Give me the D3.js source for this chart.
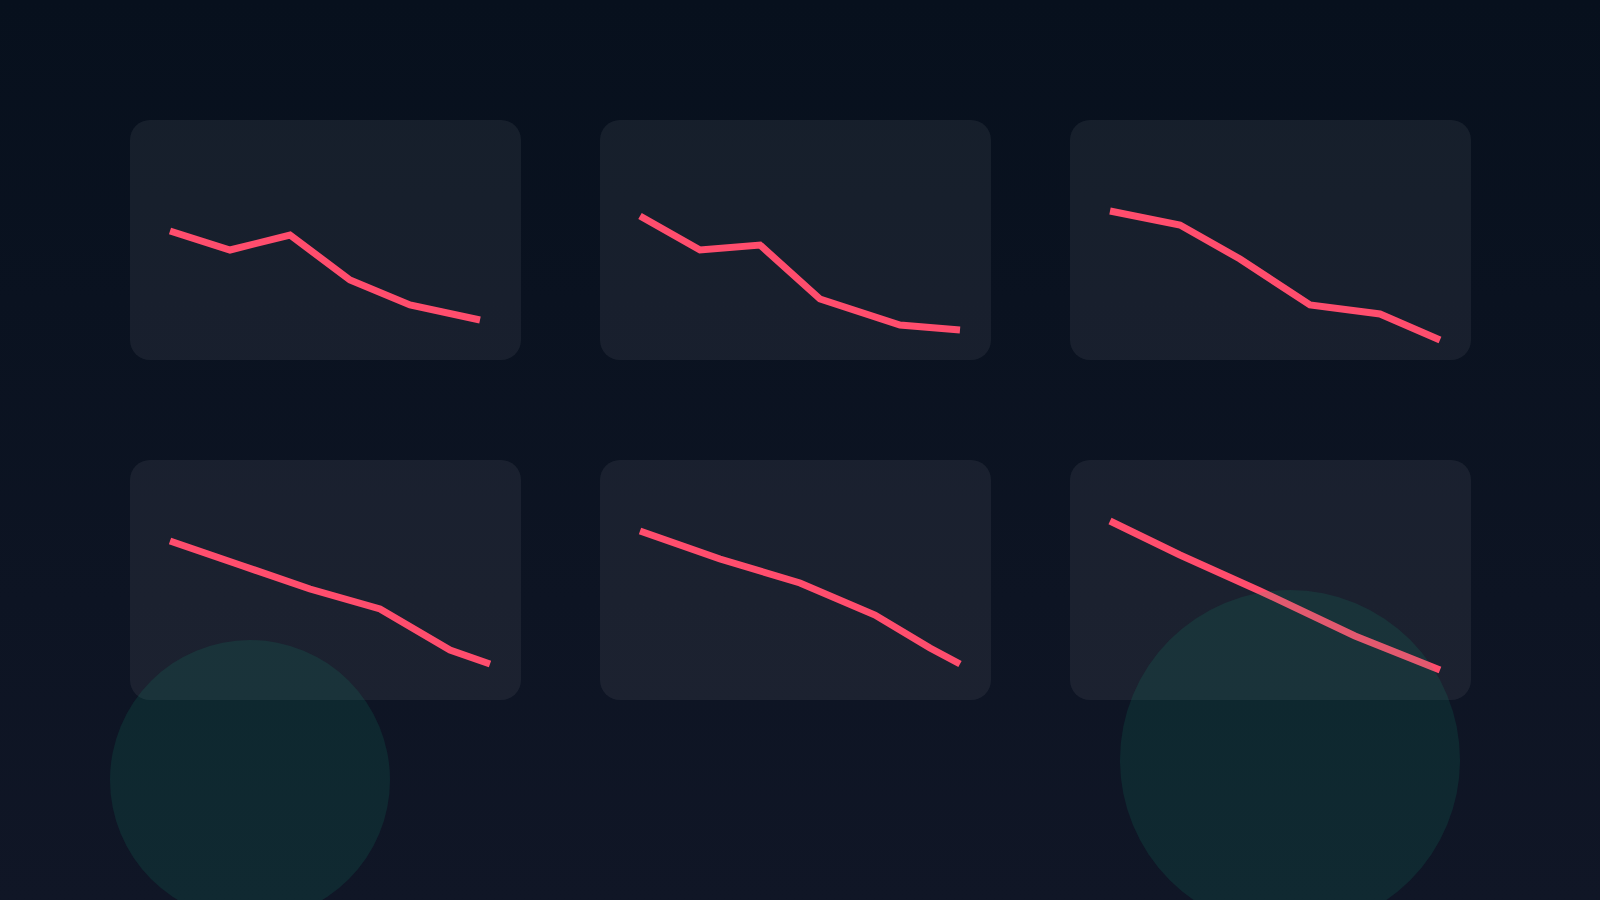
<!DOCTYPE html>
<html>
<head>
<meta charset="utf-8">
<script src="https://cdn.jsdelivr.net/npm/d3@7"></script>
<style>
  html, body { margin: 0; padding: 0; background: #0b1220; }
  svg { display: block; }
</style>
</head>
<body>
<div id="chart"></div>
<script>
// Six small sparkline panels, x in shared units, y in 0-100
const seriesX = [
  [0, 6, 12, 18, 24, 31],
  [0, 6, 12, 18, 26, 32],
  [0, 7, 13, 20, 27, 33],
  [0, 7, 14, 21, 28, 32],
  [0, 8, 16, 23.5, 29, 32],
  [0, 7, 15, 24.5, 33]
];
const seriesY = [
  [54.5, 45, 52.5, 30, 17.5, 10],
  [62, 45, 47.5, 20.5, 7.5, 5],
  [64.5, 57.5, 40.5, 17.5, 13, 0],
  [69.5, 57.5, 45.5, 35.5, 15, 8],
  [74.5, 60.5, 48.5, 32.5, 16, 8],
  [79.5, 62.5, 44.5, 22, 5]
];
// decorative glow circles: centre and radius in page units
const blobX = [250, 1290];
const blobY = [780, 760];
const blobR = [140, 170];

const W = 1600, H = 900;
const colX = [130, 600, 1070];
const colW = [391, 391, 401];
const rowY = [120, 460];
const panelH = 240;

const svg = d3.select("#chart").append("svg")
  .attr("width", W)
  .attr("height", H);

const defs = svg.append("defs");
const bg = defs.append("linearGradient")
  .attr("id", "bg")
  .attr("x1", 0).attr("y1", 0).attr("x2", 0).attr("y2", 1);
bg.append("stop").attr("offset", "0%").attr("stop-color", "#07101d");
bg.append("stop").attr("offset", "100%").attr("stop-color", "#101626");

svg.append("rect")
  .attr("width", W)
  .attr("height", H)
  .attr("fill", "url(#bg)");

// shared scales (panel-local coordinates)
const x = d3.scaleLinear().domain([0, 33]).range([40, 370]);
const y = d3.scaleLinear().domain([0, 100]).range([220, 20]);

const line = d3.line()
  .x(d => x(d[0]))
  .y(d => y(d[1]));

const panels = seriesX.map((xs, i) => ({
  col: i % 3,
  row: Math.floor(i / 3),
  points: xs.map((v, j) => [v, seriesY[i][j]])
}));

const g = svg.selectAll(".panel")
  .data(panels)
  .enter().append("g")
  .attr("class", "panel")
  .attr("transform", d => `translate(${colX[d.col]},${rowY[d.row]})`);

g.append("rect")
  .attr("width", d => colW[d.col])
  .attr("height", panelH)
  .attr("rx", 20)
  .attr("ry", 20)
  .attr("fill", "rgba(255,255,255,0.06)");

g.append("path")
  .attr("d", d => line(d.points))
  .attr("fill", "none")
  .attr("stroke", "#ff4d6d")
  .attr("stroke-width", 7)
  .attr("stroke-linejoin", "miter")
  .attr("stroke-linecap", "butt");

// soft teal blobs sit on top of everything
svg.selectAll(".blob")
  .data(blobX.map((v, i) => ({ cx: v, cy: blobY[i], r: blobR[i] })))
  .enter().append("circle")
  .attr("class", "blob")
  .attr("cx", d => d.cx)
  .attr("cy", d => d.cy)
  .attr("r", d => d.r)
  .attr("fill", "#10b981")
  .attr("fill-opacity", 0.12);
</script>
</body>
</html>
